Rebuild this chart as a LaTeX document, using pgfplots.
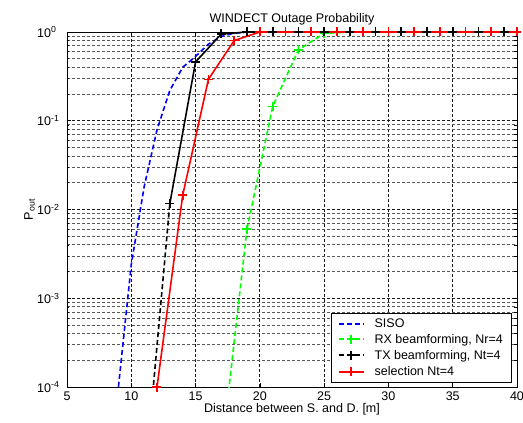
\documentclass[border=0pt]{standalone}
\usepackage{fontspec}
\setmainfont{Liberation Sans}
\usepackage{pgfplots}
\pgfplotsset{compat=1.18}

% outage probability curves
\pgfplotstableread{
x y
8 3e-6
9 1.0e-4
10 2.4e-3
11 1.8e-2
12 7.9e-2
13 0.22
14 0.40
15 0.53
16 0.73
17 0.89
18 0.97
19 0.995
20 1
40 1
}\siso

\pgfplotstableread{
x y
19 6.0e-3
21 0.145
23 0.63
25 0.965
27 1
29 1
31 1
33 1
35 1
37 1
39 1
}\rxbf

\pgfplotstableread{
x y
13 0.0117
15 0.46
17 0.95
19 1
21 1
23 1
25 1
27 1
29 1
31 1
33 1
35 1
37 1
39 1
}\txbf

\pgfplotstableread{
x y
12 1.0e-4
14 0.0145
16 0.293
18 0.80
20 1
22 1
24 1
26 1
28 1
30 1
32 1
34 1
36 1
38 1
40 1
}\selection

\begin{document}
\begin{tikzpicture}[font=\fontsize{12.5}{15}\selectfont]
\useasboundingbox (-67pt,-36pt) rectangle (456pt,387pt);
\begin{axis}[
  scale only axis,
  width=450pt, height=355pt,
  ymode=log,
  xmin=5, xmax=40,
  ymin=1e-4, ymax=1,
  xtick={5,10,...,40},
  ytick={1e-4,1e-3,1e-2,1e-1,1},
  yticklabels={10\textsuperscript{-4},10\textsuperscript{-3},10\textsuperscript{-2},10\textsuperscript{-1},10\textsuperscript{0}},
  /pgf/number format/assume math mode=true,
  yticklabel style={anchor=west, inner sep=0pt, xshift=-30pt},
  xticklabel style={yshift=-1pt},
  title={WINDECT Outage Probability},
  title style={yshift=-3pt},
  xlabel={Distance between S. and D. [m]},
  ylabel={P\textsubscript{out}},
  xlabel style={yshift=4pt},
  ylabel style={yshift=-1pt},
  xmajorgrids, ymajorgrids, yminorgrids,
  major grid style={black!90, line width=0.8pt, dash pattern=on 3pt off 2pt},
  minor grid style={black!65, line width=0.8pt, dash pattern=on 3pt off 2pt},
  major tick length=4pt, minor tick length=2.5pt,
  tick style={black, line width=0.6pt},
  axis line style={black, line width=0.8pt},
  legend style={at={(1,0)}, anchor=south east, xshift=-6pt, yshift=5pt,
    fill=white, row sep=1.5pt, inner xsep=6pt, inner ysep=3pt,
    font=\fontsize{12.5}{15}\selectfont},
  legend cell align=left,
  legend image code/.code={\draw[mark repeat=2, mark phase=2]
    plot coordinates {(0pt,0pt) (12.5pt,0pt) (25pt,0pt)};},
  legend image post style={line width=2pt},
  mark size=4.5pt,
]
\addplot[blue, line width=1.6pt, dash pattern=on 5pt off 3pt, forget plot] table {\siso};

\addplot[green, line width=1.6pt, dash pattern=on 5pt off 3pt, forget plot] coordinates {(17,1.7e-5) (19,6.0e-3)};
\addplot[green, line width=1.6pt, dash pattern=on 5pt off 3pt, mark=+, mark options={solid}, forget plot] table {\rxbf};

\addplot[black, line width=1.6pt, dash pattern=on 5pt off 3pt, forget plot] coordinates {(11,7.2e-6) (13,0.0117)};
\addplot[black, line width=1.6pt, mark=+, forget plot] table {\txbf};

\addplot[red, line width=1.6pt, mark=+, forget plot] table {\selection};

\addlegendimage{blue, dash pattern=on 5pt off 3pt}
\addlegendentry{\hspace*{8pt}SISO}
\addlegendimage{green, dash pattern=on 5pt off 3pt, mark=+, mark options={solid}}
\addlegendentry{\hspace*{8pt}RX beamforming, Nr=4}
\addlegendimage{black, dash pattern=on 5pt off 3pt, mark=+, mark options={solid}}
\addlegendentry{\hspace*{8pt}TX beamforming, Nt=4}
\addlegendimage{red, mark=+}
\addlegendentry{\hspace*{8pt}selection Nt=4}
\end{axis}
\end{tikzpicture}
\end{document}
